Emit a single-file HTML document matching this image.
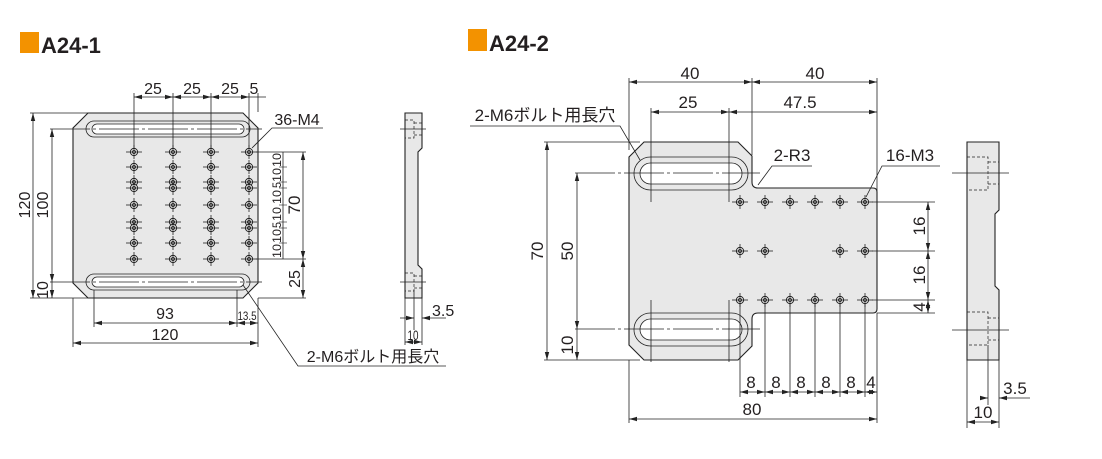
<!DOCTYPE html>
<html><head><meta charset="utf-8"><style>
html,body{margin:0;padding:0;background:#fff;}
svg{display:block;}
text{font-family:"Liberation Sans","Noto Sans CJK JP",sans-serif;fill:#231f20;}
</style></head><body>
<svg width="1102" height="459" viewBox="0 0 1102 459" xmlns="http://www.w3.org/2000/svg">
<defs>
<g id="h"><circle r="3.6" fill="#fff" stroke="#222" stroke-width="1"/><circle r="1.6" fill="none" stroke="#222" stroke-width="0.8"/><line x1="-8" y1="0" x2="8" y2="0" stroke="#222" stroke-width="0.8"/><line x1="0" y1="-7" x2="0" y2="7" stroke="#222" stroke-width="0.8"/></g>
<marker id="a" markerWidth="8" markerHeight="6" refX="8" refY="3" orient="auto-start-reverse" markerUnits="userSpaceOnUse"><path d="M0,0.8 L8,3 L0,5.2z" fill="#222"/></marker>
</defs>
<rect x="20" y="32" width="19" height="21" fill="#f39200"/>
<text x="41" y="53" font-size="22" font-weight="bold">A24-1</text>
<rect x="468" y="29" width="19" height="22" fill="#f39200"/>
<text x="489" y="51" font-size="22" font-weight="bold">A24-2</text>

<g stroke="#222" stroke-width="0.8" fill="none">
<path d="M88,113 L243,113 L258,128 L258,283 L243,298 L88,298 L73,283 L73,128 Z" fill="#e8e8e8" stroke-width="1.1"/>
<rect x="86" y="121" width="164" height="16" rx="8"/>
<rect x="92" y="124" width="152" height="10" rx="5" fill="#fff"/>
<rect x="86" y="274" width="164" height="16" rx="8"/>
<rect x="92" y="277" width="152" height="10" rx="5" fill="#fff"/>
<line x1="50" y1="129" x2="262" y2="129" stroke-dasharray="40,3,3,3"/>
<line x1="50" y1="282" x2="262" y2="282" stroke-dasharray="40,3,3,3"/>
<line x1="134" y1="93" x2="134" y2="150"/><line x1="173" y1="93" x2="173" y2="150"/>
<line x1="211" y1="93" x2="211" y2="150"/><line x1="249" y1="93" x2="249" y2="150"/>
<line x1="258" y1="93" x2="258" y2="112"/>
<line x1="134" y1="97" x2="173" y2="97" marker-start="url(#a)" marker-end="url(#a)"/>
<line x1="173" y1="97" x2="211" y2="97" marker-start="url(#a)" marker-end="url(#a)"/>
<line x1="211" y1="97" x2="249" y2="97" marker-start="url(#a)" marker-end="url(#a)"/>
<line x1="249" y1="97" x2="266" y2="97"/>
<line x1="30" y1="113" x2="88" y2="113"/><line x1="30" y1="298" x2="88" y2="298"/>
<line x1="33" y1="113" x2="33" y2="298" marker-start="url(#a)" marker-end="url(#a)"/>
<line x1="52" y1="129" x2="52" y2="282" marker-start="url(#a)" marker-end="url(#a)"/>
<line x1="52" y1="282" x2="52" y2="298" marker-end="url(#a)"/>
<line x1="94" y1="290" x2="94" y2="327"/><line x1="237" y1="290" x2="237" y2="327"/>
<line x1="73" y1="298" x2="73" y2="347"/><line x1="258" y1="298" x2="258" y2="347"/>
<line x1="94" y1="323" x2="237" y2="323" marker-start="url(#a)" marker-end="url(#a)"/>
<line x1="237" y1="323" x2="258" y2="323" marker-start="url(#a)" marker-end="url(#a)"/>
<line x1="73" y1="343" x2="258" y2="343" marker-start="url(#a)" marker-end="url(#a)"/>
<line x1="256" y1="152" x2="306" y2="152"/><line x1="256" y1="259" x2="306" y2="259"/>
<line x1="258" y1="298" x2="306" y2="298"/>
<line x1="283" y1="152" x2="283" y2="259"/>
<g stroke-width="0.6"><line x1="279" y1="167" x2="287" y2="167"/><line x1="279" y1="182" x2="287" y2="182"/><line x1="279" y1="188" x2="287" y2="188"/><line x1="279" y1="205" x2="287" y2="205"/><line x1="279" y1="222" x2="287" y2="222"/><line x1="279" y1="228" x2="287" y2="228"/><line x1="279" y1="243" x2="287" y2="243"/></g>
<line x1="303" y1="152" x2="303" y2="259" marker-start="url(#a)" marker-end="url(#a)"/>
<line x1="303" y1="259" x2="303" y2="298" marker-start="url(#a)" marker-end="url(#a)"/>
<polyline points="252,148 272,128 323,128"/>
<polyline points="243,285 298,366 446,366"/>

<path d="M405,113 L422,113 L422,148 L418,152 L418,265 L422,269 L422,298 L405,298 Z" fill="#e8e8e8" stroke-width="1.1"/>
<g stroke-dasharray="3,2" stroke-width="0.7"><path d="M405,120 L414,120 L414,138 L405,138"/><path d="M414,123 L422,123 M414,135 L422,135"/><path d="M405,273 L414,273 L414,291 L405,291"/><path d="M414,276 L422,276 M414,288 L422,288"/></g>
<line x1="400" y1="129" x2="426" y2="129"/><line x1="400" y1="282" x2="426" y2="282"/>
<line x1="405" y1="298" x2="405" y2="345"/><line x1="422" y1="298" x2="422" y2="345"/><line x1="414" y1="290" x2="414" y2="330"/>
<line x1="400" y1="318" x2="414" y2="318" marker-end="url(#a)"/><line x1="446" y1="318" x2="422" y2="318" marker-end="url(#a)"/>
<line x1="405" y1="342" x2="422" y2="342" marker-start="url(#a)" marker-end="url(#a)"/>

<path d="M644,142 L738,142 L752,156 L752,182 Q752,188 758,188 L873,188 Q877,188 877,192 L877,309 Q877,313 873,313 L758,313 Q752,313 752,319 L752,346 L738,360 L644,360 L629,345 L629,157 Z" fill="#e8e8e8" stroke-width="1.1"/>
<rect x="634" y="157" width="114" height="33" rx="16.5"/>
<rect x="640" y="163" width="102" height="21" rx="10.5" fill="#fff"/>
<rect x="634" y="313" width="114" height="33" rx="16.5"/>
<rect x="640" y="319" width="102" height="21" rx="10.5" fill="#fff"/>
<line x1="575" y1="173" x2="760" y2="173" stroke-dasharray="40,3,3,3"/>
<line x1="575" y1="329" x2="760" y2="329" stroke-dasharray="40,3,3,3"/>
<line x1="629" y1="78" x2="629" y2="150"/><line x1="752" y1="78" x2="752" y2="155"/><line x1="877" y1="78" x2="877" y2="196"/>
<line x1="629" y1="82" x2="752" y2="82" marker-start="url(#a)" marker-end="url(#a)"/>
<line x1="752" y1="82" x2="877" y2="82" marker-start="url(#a)" marker-end="url(#a)"/>
<line x1="651" y1="108" x2="651" y2="202"/><line x1="729" y1="108" x2="729" y2="202"/>
<line x1="651" y1="300" x2="651" y2="362"/><line x1="729" y1="300" x2="729" y2="362"/>
<line x1="651" y1="112" x2="729" y2="112" marker-start="url(#a)" marker-end="url(#a)"/>
<line x1="729" y1="112" x2="877" y2="112" marker-start="url(#a)" marker-end="url(#a)"/>
<line x1="544" y1="142" x2="640" y2="142"/><line x1="544" y1="360" x2="640" y2="360"/>
<line x1="547" y1="142" x2="547" y2="360" marker-start="url(#a)" marker-end="url(#a)"/>
<line x1="577" y1="173" x2="577" y2="329" marker-start="url(#a)" marker-end="url(#a)"/>
<line x1="577" y1="329" x2="577" y2="360" marker-end="url(#a)"/>
<line x1="872" y1="202" x2="935" y2="202"/><line x1="872" y1="251" x2="935" y2="251"/><line x1="872" y1="300" x2="935" y2="300"/><line x1="877" y1="313" x2="935" y2="313"/>
<line x1="928" y1="202" x2="928" y2="251" marker-start="url(#a)" marker-end="url(#a)"/>
<line x1="928" y1="251" x2="928" y2="300" marker-start="url(#a)" marker-end="url(#a)"/>
<line x1="928" y1="300" x2="928" y2="313" marker-start="url(#a)" marker-end="url(#a)"/>
<line x1="740" y1="300" x2="740" y2="397"/><line x1="765" y1="300" x2="765" y2="397"/><line x1="790" y1="300" x2="790" y2="397"/><line x1="815" y1="300" x2="815" y2="397"/><line x1="840" y1="300" x2="840" y2="397"/><line x1="865" y1="300" x2="865" y2="397"/><line x1="877" y1="313" x2="877" y2="423"/>
<line x1="629" y1="360" x2="629" y2="423"/>
<g marker-start="url(#a)" marker-end="url(#a)"><line x1="740" y1="392" x2="765" y2="392"/><line x1="765" y1="392" x2="790" y2="392"/><line x1="790" y1="392" x2="815" y2="392"/><line x1="815" y1="392" x2="840" y2="392"/><line x1="840" y1="392" x2="865" y2="392"/><line x1="865" y1="392" x2="877" y2="392"/>
<line x1="629" y1="419" x2="877" y2="419"/></g>
<polyline points="640,160 620,126 470,126"/>
<polyline points="758,185 772,166 812,166"/>
<polyline points="866,197 882,166 940,166"/>

<path d="M967,142 L999,142 L999,210 L995,214 L995,286 L999,290 L999,360 L967,360 Z" fill="#e8e8e8" stroke-width="1.1"/>
<g stroke-dasharray="3,2" stroke-width="0.7"><path d="M967,157 L988,157 L988,190 L967,190"/><path d="M988,162 L999,162 M988,184 L999,184"/><path d="M967,312 L988,312 L988,345 L967,345"/><path d="M988,318 L999,318 M988,340 L999,340"/></g>
<line x1="952" y1="173" x2="1009" y2="173"/><line x1="952" y1="330" x2="1009" y2="330"/>
<line x1="967" y1="360" x2="967" y2="428"/><line x1="999" y1="360" x2="999" y2="428"/><line x1="988" y1="345" x2="988" y2="405"/>
<line x1="980" y1="398" x2="988" y2="398" marker-end="url(#a)"/><line x1="1030" y1="398" x2="999" y2="398" marker-end="url(#a)"/>
<line x1="967" y1="422" x2="999" y2="422" marker-start="url(#a)" marker-end="url(#a)"/>
</g>

<g>
<use href="#h" x="134" y="152"/><use href="#h" x="134" y="167"/><use href="#h" x="134" y="182"/><use href="#h" x="134" y="188"/><use href="#h" x="134" y="205"/><use href="#h" x="134" y="222"/><use href="#h" x="134" y="228"/><use href="#h" x="134" y="243"/><use href="#h" x="134" y="259"/>
<use href="#h" x="173" y="152"/><use href="#h" x="173" y="167"/><use href="#h" x="173" y="182"/><use href="#h" x="173" y="188"/><use href="#h" x="173" y="205"/><use href="#h" x="173" y="222"/><use href="#h" x="173" y="228"/><use href="#h" x="173" y="243"/><use href="#h" x="173" y="259"/>
<use href="#h" x="211" y="152"/><use href="#h" x="211" y="167"/><use href="#h" x="211" y="182"/><use href="#h" x="211" y="188"/><use href="#h" x="211" y="205"/><use href="#h" x="211" y="222"/><use href="#h" x="211" y="228"/><use href="#h" x="211" y="243"/><use href="#h" x="211" y="259"/>
<use href="#h" x="249" y="152"/><use href="#h" x="249" y="167"/><use href="#h" x="249" y="182"/><use href="#h" x="249" y="188"/><use href="#h" x="249" y="205"/><use href="#h" x="249" y="222"/><use href="#h" x="249" y="228"/><use href="#h" x="249" y="243"/><use href="#h" x="249" y="259"/>
</g>
<g>
<use href="#h" x="740" y="202"/><use href="#h" x="765" y="202"/><use href="#h" x="790" y="202"/><use href="#h" x="815" y="202"/><use href="#h" x="840" y="202"/><use href="#h" x="865" y="202"/>
<use href="#h" x="740" y="251"/><use href="#h" x="765" y="251"/><use href="#h" x="840" y="251"/><use href="#h" x="865" y="251"/>
<use href="#h" x="740" y="300"/><use href="#h" x="765" y="300"/><use href="#h" x="790" y="300"/><use href="#h" x="815" y="300"/><use href="#h" x="840" y="300"/><use href="#h" x="865" y="300"/>
</g>

<g font-size="16" text-anchor="middle">
<text x="153" y="94">25</text><text x="192" y="94">25</text><text x="230" y="94">25</text><text x="254" y="94">5</text>
<text x="297" y="125">36-M4</text>
<text transform="translate(30,205) rotate(-90)">120</text>
<text transform="translate(48,205) rotate(-90)">100</text>
<text transform="translate(48,290) rotate(-90)">10</text>
<text x="165" y="319">93</text>
<text x="165" y="340">120</text>
<text transform="translate(300,205) rotate(-90)" font-size="17">70</text>
<text transform="translate(300,279) rotate(-90)">25</text>
<text x="432" y="316" text-anchor="start">3.5</text>
<text x="413" y="340" font-size="14" textLength="11" lengthAdjust="spacingAndGlyphs">10</text>
<text x="373" y="362">2-M6ボルト用長穴</text>
<text x="247" y="320" font-size="12" textLength="19" lengthAdjust="spacingAndGlyphs">13.5</text>
</g>
<g font-size="12" text-anchor="middle">
<text transform="translate(281,160) rotate(-90)" textLength="14" lengthAdjust="spacingAndGlyphs">10</text>
<text transform="translate(281,175) rotate(-90)" textLength="14" lengthAdjust="spacingAndGlyphs">10</text>
<text transform="translate(281,185) rotate(-90)" textLength="6" lengthAdjust="spacingAndGlyphs">5</text>
<text transform="translate(281,197) rotate(-90)" textLength="14" lengthAdjust="spacingAndGlyphs">10</text>
<text transform="translate(281,214) rotate(-90)" textLength="14" lengthAdjust="spacingAndGlyphs">10</text>
<text transform="translate(281,225) rotate(-90)" textLength="6" lengthAdjust="spacingAndGlyphs">5</text>
<text transform="translate(281,236) rotate(-90)" textLength="14" lengthAdjust="spacingAndGlyphs">10</text>
<text transform="translate(281,251) rotate(-90)" textLength="14" lengthAdjust="spacingAndGlyphs">10</text>
</g>
<g font-size="17" text-anchor="middle">
<text x="690" y="79">40</text><text x="815" y="79">40</text>
<text x="688" y="108">25</text><text x="800" y="108">47.5</text>
<text x="545" y="121">2-M6ボルト用長穴</text>
<text x="792" y="161">2-R3</text>
<text x="910" y="161">16-M3</text>
<text transform="translate(543,251) rotate(-90)">70</text>
<text transform="translate(573,251) rotate(-90)">50</text>
<text transform="translate(573,345) rotate(-90)">10</text>
<text transform="translate(925,226) rotate(-90)">16</text>
<text transform="translate(925,275) rotate(-90)">16</text>
<text transform="translate(925,307) rotate(-90)">4</text>
<text x="751" y="388">8</text><text x="776" y="388">8</text><text x="801" y="388">8</text><text x="826" y="388">8</text><text x="851" y="388">8</text><text x="871" y="388">4</text>
<text x="752" y="415">80</text>
<text x="1015" y="394">3.5</text>
<text x="983" y="418">10</text>
</g>
</svg>
</body></html>
